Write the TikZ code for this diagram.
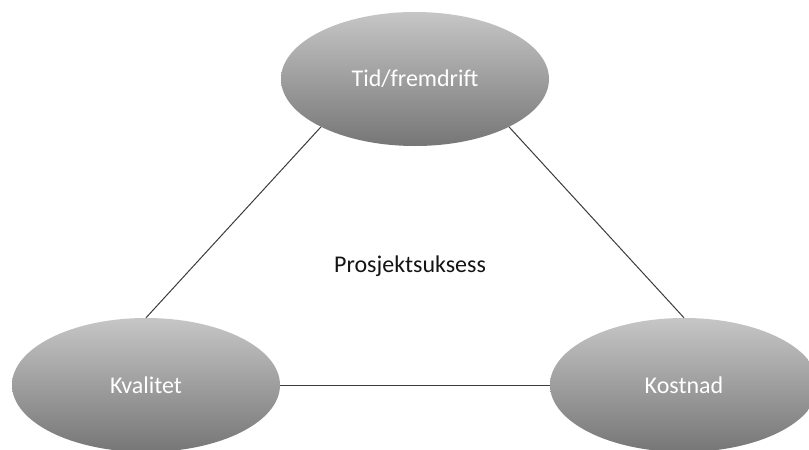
\documentclass[tikz,border=0pt]{standalone}
\usepackage{fontspec}
\setmainfont{Carlito}
\usetikzlibrary{shapes.geometric}
\definecolor{shadetop}{RGB}{198,198,198}
\definecolor{shadebot}{RGB}{118,118,118}
\definecolor{linkgray}{RGB}{60,60,60}
\definecolor{labelink}{RGB}{20,20,20}
\tikzset{
  goal/.style={ellipse, minimum width=268pt, minimum height=134pt, inner sep=0pt,
    top color=shadetop, bottom color=shadebot, draw=none,
    text=white, font=\fontsize{24}{28}\selectfont},
  link/.style={draw=linkgray, line width=1pt},
  centre/.style={text=labelink, font=\fontsize{24}{28}\selectfont}
}
\begin{document}
\begin{tikzpicture}[x=1pt, y=-1pt]
  \useasboundingbox (0,0) rectangle (809,450);
  \clip (0,0) rectangle (809,450);
  \fill[white] (0,0) rectangle (809,450);

  % the three constraints
  \node[goal] (tid) at (415,79) {Tid/fremdrift};
  \node[goal] (kval) at (146,385) {Kvalitet};
  \node[goal] (kost) at (684,385) {Kostnad};

  % the triangle that joins them
  \draw[link] (tid.207) -- (kval.north);
  \draw[link] (tid.333) -- (kost.north);
  \draw[link] (kval.east) -- (kost.west);

  \node[centre] (mid) at (410,266) {Prosjektsuksess};
\end{tikzpicture}
\end{document}
